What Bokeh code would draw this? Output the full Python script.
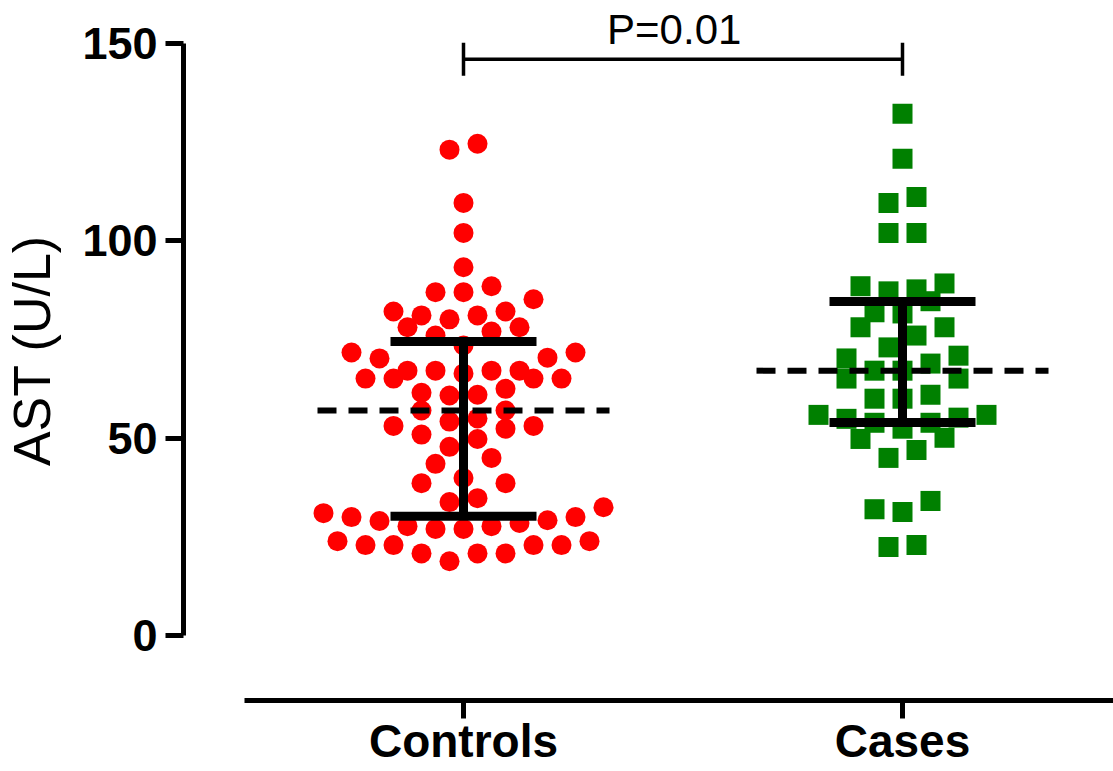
import numpy as np
from bokeh.plotting import figure
from bokeh.models import Range1d, LinearAxis, FixedTicker
from bokeh.embed import file_html
from bokeh.resources import INLINE
from bokeh.core.properties import value

# ---------------- data ----------------
groups = ["Controls", "Cases"]
group_pos = [1, 2]

controls_ast = [
    124.6, 123.1, 109.6, 102, 93.3, 88.5, 87, 87, 85.2, 82.1, 81.1, 78.1, 78.1,
    80.1, 81.1, 82.1, 77, 76,
    73.5, 71.7, 70.2, 70.4, 71.7,
    67.1, 67.1, 65.1, 65.1, 62.5, 61, 60.8, 61.5, 65.1, 65.1, 66.4, 67.1, 67.1,
    57, 57, 55, 53.1, 52.4, 53.1, 54.2, 50.9, 49.8, 47.8, 45, 43.5, 39.9, 38.6,
    38.6, 34.8,
    33.8, 31, 30, 29, 27.7, 27, 27, 27.7, 28.5, 29.2, 30, 32.5,
    23.9, 22.9, 22.9, 20.8, 18.8, 20.8, 20.8, 22.9, 22.9, 23.9,
]
cases_ast = [
    132.2, 120.8, 111.1, 109.6, 102, 102, 89.2, 87.7, 88.5, 87.2, 84.7, 81.6,
    81.9, 78.1, 78.1, 76, 73, 70.9, 68.9, 67.1, 65.1, 65.1, 67.1, 70.2, 60,
    55.9, 55.2, 52.4, 53.9, 49.8, 53.9, 54.9, 55.9, 50.1, 60, 61, 45, 47, 32,
    31.3, 34.1, 22.4, 22.9,
]
# [lower bar, centre (dashed), upper bar]
controls_summary = [30.2, 57.0, 74.5]
cases_summary = [54.0, 67.1, 84.6]

y_ticks = [0, 50, 100, 150]
y_title = "AST (U/L)"
p_label = "P=0.01"

# ---------------- layout ----------------
W, H = 1113, 771
border_left, border_bottom = 183, 71
frame_w, frame_h = W - border_left, H - border_bottom
px_per_x = 439.0
px_per_y = 592.0 / 150.0
x0 = 1 - 280.0 / px_per_x
x1 = x0 + frame_w / px_per_x
y1 = 635.0 / px_per_y
y0 = y1 - frame_h / px_per_y

FONT = "Liberation Sans"


def swarm(vals, center, spacing, bin_h):
    """Prism-like column scatter: group close values in rows, fill center-out."""
    order = np.argsort(vals, kind="stable")
    v = np.asarray(vals, dtype=float)
    xs = np.zeros(len(v))
    rows, cur = [], []
    for i in order:
        if cur and v[i] - v[cur[0]] > bin_h:
            rows.append(cur)
            cur = []
        cur.append(i)
    if cur:
        rows.append(cur)
    for row in rows:
        n = len(row)
        slots = [k - (n - 1) / 2 for k in range(n)]
        slots.sort(key=lambda s: (abs(s), s))
        for idx, s in zip(row, slots):
            xs[idx] = center + s * spacing
    return xs


spacing = 28.0 / px_per_x
bin_h = 22.0 / px_per_y

p = figure(
    width=W, height=H, output_backend="svg", toolbar_location=None,
    x_range=Range1d(x0, x1), y_range=Range1d(y0, y1),
    x_axis_type=None, y_axis_type=None,
    min_border_left=border_left, min_border_right=0,
    min_border_top=0, min_border_bottom=border_bottom,
)
p.outline_line_color = None
p.background_fill_color = "white"
p.border_fill_color = "white"

# axes
yaxis = LinearAxis(ticker=FixedTicker(ticks=y_ticks, minor_ticks=[]), bounds=(0, 150))
yaxis.axis_line_width = 5
yaxis.axis_line_color = "black"
yaxis.major_tick_line_width = 5
yaxis.major_tick_out = 18
yaxis.major_tick_in = 0
yaxis.minor_tick_line_color = None
yaxis.major_label_text_font = FONT
yaxis.major_label_text_font_style = "bold"
yaxis.major_label_text_font_size = "45px"
yaxis.major_label_text_color = "black"
yaxis.major_label_standoff = 8
yaxis.axis_label = y_title
yaxis.axis_label_text_font = FONT
yaxis.axis_label_text_font_style = "normal"
yaxis.axis_label_text_font_size = "52px"
yaxis.axis_label_text_color = "black"
yaxis.axis_label_standoff = 18
p.add_layout(yaxis, "left")

xaxis = LinearAxis(ticker=FixedTicker(ticks=group_pos, minor_ticks=[]),
                   bounds=(0.5, x1),
                   major_label_overrides={g: n for g, n in zip(group_pos, groups)})
xaxis.axis_line_width = 5
xaxis.axis_line_color = "black"
xaxis.major_tick_line_width = 5
xaxis.major_tick_out = 18
xaxis.major_tick_in = 0
xaxis.minor_tick_line_color = None
xaxis.major_label_text_font = FONT
xaxis.major_label_text_font_style = "bold"
xaxis.major_label_text_font_size = "46px"
xaxis.major_label_text_color = "black"
xaxis.major_label_standoff = -4
p.add_layout(xaxis, "below")

# points
cx = swarm(controls_ast, group_pos[0], spacing, bin_h)
kx = swarm(cases_ast, group_pos[1], spacing, bin_h)
p.scatter(cx, controls_ast, marker="circle", size=20,
          fill_color="#FF0000", line_color=None)
p.scatter(kx, cases_ast, marker="square", size=20,
          fill_color="#008000", line_color=None)

# summary bars
cap_half = 73.0 / px_per_x
dash_half = 146.0 / px_per_x
summ = [controls_summary, cases_summary]
lo = [s[0] for s in summ]
mid = [s[1] for s in summ]
hi = [s[2] for s in summ]
gp = np.array(group_pos, dtype=float)
p.segment(gp, lo, gp, hi, line_width=9, line_color="black")
p.segment(gp - cap_half, lo, gp + cap_half, lo, line_width=9, line_color="black")
p.segment(gp - cap_half, hi, gp + cap_half, hi, line_width=9, line_color="black")
p.segment(gp - dash_half, mid, gp + dash_half, mid, line_width=6,
          line_color="black", line_dash="19 12")

# significance bracket
bracket_y = 146.0
bracket_tick = 4.2
p.segment([gp[0]], [bracket_y], [gp[1]], [bracket_y], line_width=3.5, line_color="black")
p.segment(gp, [bracket_y - bracket_tick] * 2, gp, [bracket_y + bracket_tick] * 2,
          line_width=3.5, line_color="black")
p.text(x=[(gp[0] + gp[1]) / 2 - 0.02], y=[bracket_y + 1.6],
       text=[p_label], text_align="center", text_baseline="bottom",
       text_font=value(FONT), text_font_size="42px", text_color="black")

open("out.html", "w").write(file_html(p, INLINE))
